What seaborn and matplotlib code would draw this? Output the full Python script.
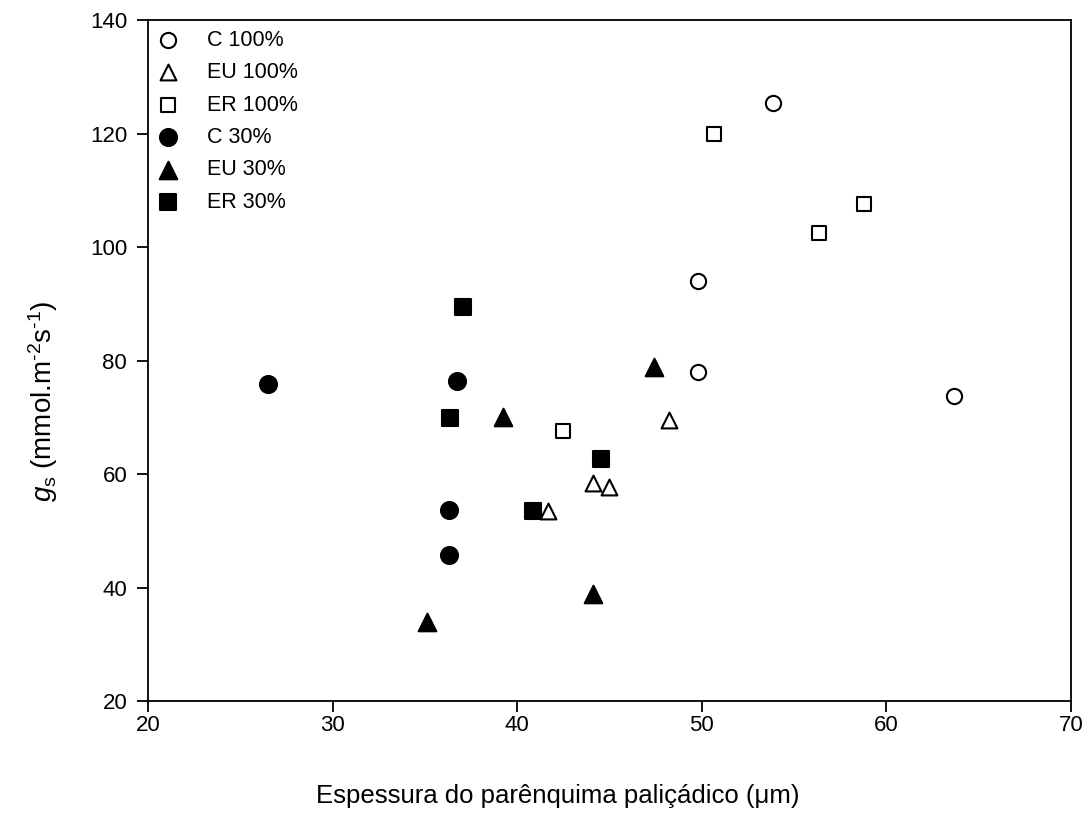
import numpy as np
import pandas as pd
import matplotlib
matplotlib.use("Agg")
import matplotlib.pyplot as plt
import seaborn as sns

# Palisade parenchyma thickness (um) vs stomatal conductance gs
c100_x = [53.84, 49.77, 49.77, 63.65]
c100_y = [125.3, 94.0, 78.0, 73.7]
eu100_x = [41.66, 44.10, 44.95, 48.20]
eu100_y = [53.4, 58.4, 57.7, 69.5]
er100_x = [50.64, 58.81, 56.37, 42.49]
er100_y = [119.9, 107.5, 102.5, 67.5]
c30_x = [26.49, 36.73, 36.30, 36.30]
c30_y = [75.9, 76.4, 53.7, 45.7]
eu30_x = [35.14, 44.10, 39.22, 47.39]
eu30_y = [34.0, 38.8, 70.0, 78.9]
er30_x = [37.09, 36.37, 40.85, 44.54]
er30_y = [89.5, 69.8, 53.4, 62.6]

groups = ["C 100%", "EU 100%", "ER 100%", "C 30%", "EU 30%", "ER 30%"]
xs = [c100_x, eu100_x, er100_x, c30_x, eu30_x, er30_x]
ys = [c100_y, eu100_y, er100_y, c30_y, eu30_y, er30_y]
markers = ["o", "^", "s", "o", "^", "s"]
filled = [False, False, False, True, True, True]
sizes = [120, 130, 110, 150, 160, 120]

frames = []
for g, x, y in zip(groups, xs, ys):
    frames.append(pd.DataFrame({"x": x, "y": y, "grupo": g}))
df = pd.concat(frames, ignore_index=True)

sns.set_theme(style="ticks")
plt.rcParams["font.family"] = ["Liberation Sans", "DejaVu Sans"]
plt.rcParams["mathtext.fontset"] = "custom"
plt.rcParams["mathtext.rm"] = "Liberation Sans"
plt.rcParams["mathtext.it"] = "Liberation Sans:italic"
for key in ["text.color", "axes.labelcolor", "xtick.color", "ytick.color", "axes.edgecolor"]:
    plt.rcParams[key] = "black"

fig = plt.figure(figsize=(10.91, 8.23), dpi=100)
ax = fig.add_axes([148 / 1091, 1 - 701 / 823, (1071 - 148) / 1091, (701 - 20) / 823])

for g, m, f, s in zip(groups, markers, filled, sizes):
    sub = df[df["grupo"] == g]
    sns.scatterplot(
        data=sub, x="x", y="y", ax=ax, marker=m, s=s,
        color="black",
        facecolor="black" if f else "white",
        edgecolor="black", linewidth=1.5, label=g, zorder=3,
    )

ax.set_xlim(20, 70)
ax.set_ylim(20, 140)
ax.set_xticks([20, 30, 40, 50, 60, 70])
ax.set_yticks([20, 40, 60, 80, 100, 120, 140])
for side in ["top", "right", "left", "bottom"]:
    ax.spines[side].set_visible(True)
    ax.spines[side].set_color("black")
    ax.spines[side].set_linewidth(1.3)
ax.tick_params(axis="both", direction="out", length=8, width=1.3,
               labelsize=16, colors="black")
ax.tick_params(axis="x", pad=2)
ax.tick_params(axis="y", pad=7)
ax.tick_params(top=False, right=False)

ax.set_xlabel("Espessura do parênquima paliçádico (μm)", fontsize=18.5)
ax.xaxis.set_label_coords(0.444, -0.122)
ax.set_ylabel(r"$g_\mathrm{s}$ (mmol.m$^{\text{-}2}$s$^{\text{-}1}$)", fontsize=20)
ax.yaxis.set_label_coords(-0.095, 0.44)

leg = ax.legend(loc="upper left", frameon=False, fontsize=15.5,
                handletextpad=1.3, labelspacing=0.53,
                borderaxespad=0.05, handlelength=1.0)

fig.savefig("out.png", dpi=100)
